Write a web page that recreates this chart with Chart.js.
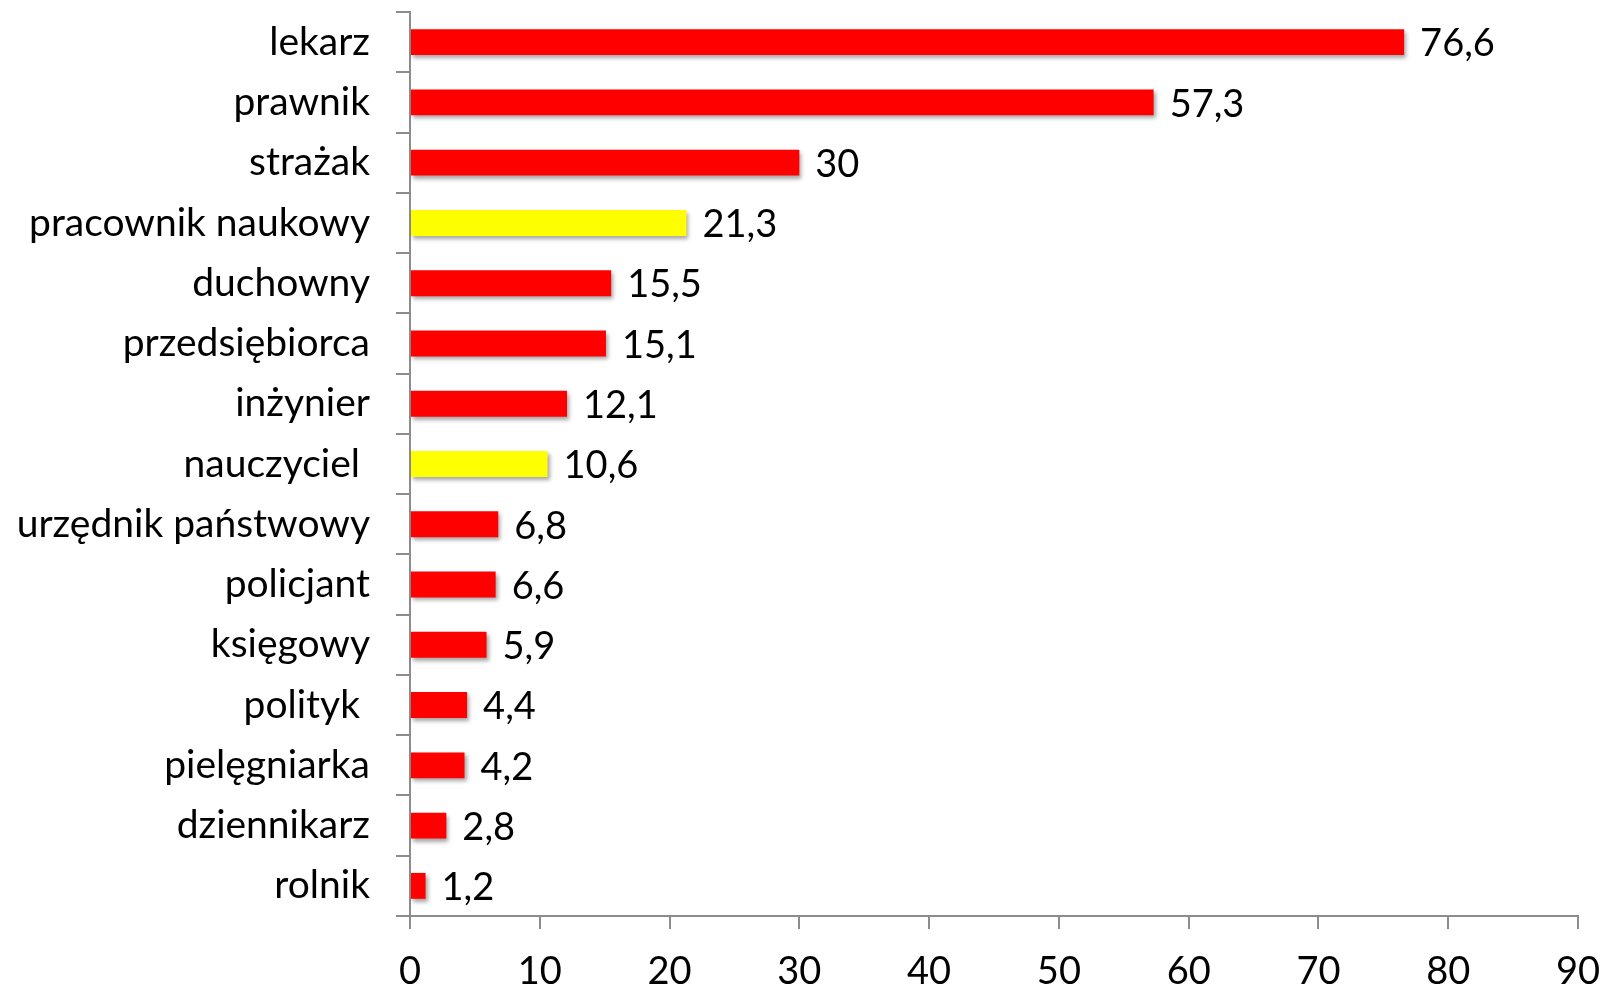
<!DOCTYPE html>
<html>
<head>
<meta charset="utf-8">
<script src="https://cdn.jsdelivr.net/npm/chart.js@4.4.0/dist/chart.umd.min.js"></script>
<style>
  html, body { margin: 0; padding: 0; background: #fff; }
  #wrap { width: 1604px; height: 987px; }
</style>
</head>
<body>
<div id="wrap"><canvas id="chart"></canvas></div>
<script>
const categories = [
  "lekarz", "prawnik", "strażak", "pracownik naukowy", "duchowny",
  "przedsiębiorca", "inżynier", "nauczyciel ", "urzędnik państwowy",
  "policjant", "księgowy", "polityk ", "pielęgniarka", "dziennikarz", "rolnik"
];
const values = [76.6, 57.3, 30, 21.3, 15.5, 15.1, 12.1, 10.6, 6.8, 6.6, 5.9, 4.4, 4.2, 2.8, 1.2];
const highlighted = ["pracownik naukowy", "nauczyciel "];
const xTicks = [0, 10, 20, 30, 40, 50, 60, 70, 80, 90];

const FONT = "Lato, 'Open Sans', sans-serif";
const axisGrey = "#8c8c8c";

const barColors = categories.map(c => highlighted.includes(c) ? "#ffff00" : "#ff0000");

// cień pod słupkami jak w Excelu
const shadowPlugin = {
  id: "barShadow",
  beforeDatasetDraw(chart) {
    const ctx = chart.ctx;
    ctx.save();
    ctx.shadowColor = "rgba(0,0,0,0.35)";
    ctx.shadowOffsetX = 2;
    ctx.shadowOffsetY = 3;
    ctx.shadowBlur = 4;
  },
  afterDatasetDraw(chart) {
    chart.ctx.restore();
  }
};

// etykiety wartości na końcu słupka
const valueLabels = {
  id: "valueLabels",
  afterDatasetsDraw(chart) {
    const ctx = chart.ctx;
    const meta = chart.getDatasetMeta(0);
    ctx.save();
    ctx.font = "38px " + FONT;
    ctx.fillStyle = "#000";
    ctx.textAlign = "left";
    ctx.textBaseline = "middle";
    meta.data.forEach((bar, i) => {
      const txt = String(values[i]).replace(".", ",");
      ctx.fillText(txt, bar.x + 16, bar.y + 2);
    });
    ctx.restore();
  }
};

function noPad(axis) {
  axis.paddingTop = 0;
  axis.paddingBottom = 0;
  axis.paddingLeft = 0;
  axis.paddingRight = 0;
}

new Chart(document.getElementById("chart"), {
  type: "bar",
  data: {
    labels: categories,
    datasets: [{
      data: values,
      backgroundColor: barColors,
      borderWidth: 0,
      barPercentage: 0.43,
      categoryPercentage: 1
    }]
  },
  options: {
    indexAxis: "y",
    responsive: true,
    maintainAspectRatio: false,
    animation: false,
    layout: { padding: { top: 12, right: 26, left: 0, bottom: 0 } },
    plugins: { legend: { display: false }, tooltip: { enabled: false } },
    scales: {
      x: {
        min: 0,
        max: 90,
        afterBuildTicks(axis) { axis.ticks = xTicks.map(v => ({ value: v })); },
        grid: {
          drawOnChartArea: false,
          drawTicks: true,
          tickLength: 13,
          color: axisGrey,
          lineWidth: 2
        },
        border: { color: axisGrey, width: 2 },
        ticks: {
          color: "#000",
          font: { family: FONT, size: 38 },
          padding: 20
        },
        afterFit(axis) { axis.height = 71; noPad(axis); }
      },
      y: {
        grid: {
          offset: true,
          drawOnChartArea: false,
          drawTicks: true,
          tickLength: 14,
          color: axisGrey,
          lineWidth: 2
        },
        border: { color: axisGrey, width: 2 },
        ticks: {
          color: "#000",
          font: { family: FONT, size: 39 },
          padding: 26,
          autoSkip: false
        },
        afterFit(axis) { axis.width = 410; noPad(axis); }
      }
    }
  },
  plugins: [shadowPlugin, valueLabels]
});
</script>
</body>
</html>
